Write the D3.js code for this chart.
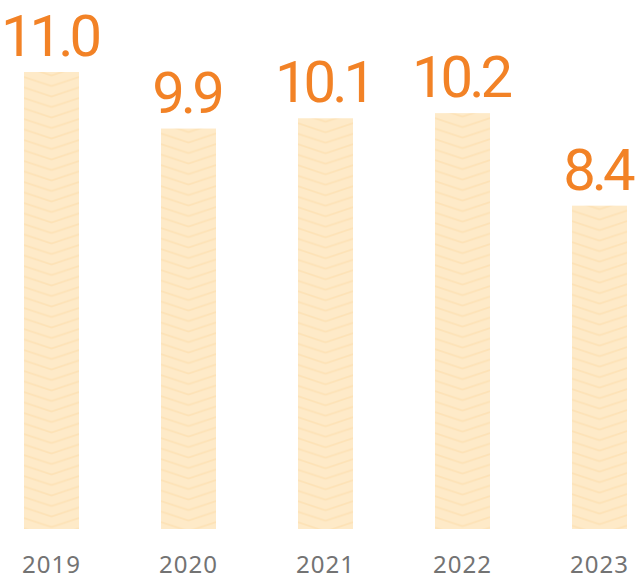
<!DOCTYPE html>
<html>
<head>
<meta charset="utf-8">
<script src="https://cdn.jsdelivr.net/npm/d3@7"></script>
<style>
  body { margin: 0; background: #fff; }
  #chart { width: 640px; height: 579px; }
  .value-label { font-family: Roboto, "Open Sans", sans-serif; font-weight: 400; fill: #f28226; }
  .year-label { font-family: "Noto Sans", "Open Sans", sans-serif; fill: #737373; }
</style>
</head>
<body>
<div id="chart"></div>
<script>
// Data
const years = ["2019", "2020", "2021", "2022", "2023"];
const values = [11.0, 9.9, 10.1, 10.2, 8.4];

function createBarChart() {
    const container = d3.select("#chart");
    container.selectAll("*").remove();

    const width = 640, height = 579;
    const baseline = 529;

    const svg = container.append("svg")
        .attr("width", width)
        .attr("height", height);

    const defs = svg.append("defs");

    // x: band scale for the years
    const xScale = d3.scaleBand()
        .domain(years)
        .range([24, 627])
        .paddingInner(0.5985)
        .paddingOuter(0);

    // y: bars don't start from zero in the original
    const yScale = d3.scaleLinear()
        .domain([2.11, 11])
        .range([baseline, 72]);

    const bw = xScale.bandwidth();

    // Chevron pattern, one per bar so it lines up with each bar's edge
    years.forEach((yr, i) => {
        const p = defs.append("pattern")
            .attr("id", `chev-${i}`)
            .attr("patternUnits", "userSpaceOnUse")
            .attr("x", xScale(yr))
            .attr("y", yScale(values[i]) + 3)
            .attr("width", bw)
            .attr("height", 10.5);
        p.append("rect")
            .attr("width", bw)
            .attr("height", 10.5)
            .attr("fill", "#feeac8");
        p.append("path")
            .attr("d", `M0,2 L${bw / 2},11 L${bw},2 M0,-8.5 L${bw / 2},0.5 L${bw},-8.5`)
            .attr("fill", "none")
            .attr("stroke", "#fde2b6")
            .attr("stroke-width", 1.8);
    });

    // Bars
    svg.selectAll(".bar")
        .data(values)
        .enter().append("rect")
        .attr("class", "bar")
        .attr("x", (d, i) => xScale(years[i]))
        .attr("y", d => yScale(d))
        .attr("width", bw)
        .attr("height", d => baseline - yScale(d))
        .attr("fill", (d, i) => `url(#chev-${i})`);

    // Value labels
    svg.selectAll(".value-label")
        .data(values)
        .enter().append("text")
        .attr("class", "value-label")
        .attr("x", (d, i) => xScale(years[i]) + bw / 2 - 2)
        .attr("y", d => yScale(d) - 16)
        .attr("text-anchor", "middle")
        .style("font-size", "58px")
        .style("letter-spacing", "-4px")
        .text(d => d.toFixed(1));

    // Year labels (x axis without line or ticks)
    svg.selectAll(".year-label")
        .data(years)
        .enter().append("text")
        .attr("class", "year-label")
        .attr("x", d => xScale(d) + bw / 2)
        .attr("y", 573)
        .attr("text-anchor", "middle")
        .style("font-size", "24px")
        .style("letter-spacing", "1px")
        .text(d => d);
}

createBarChart();
</script>
</body>
</html>
